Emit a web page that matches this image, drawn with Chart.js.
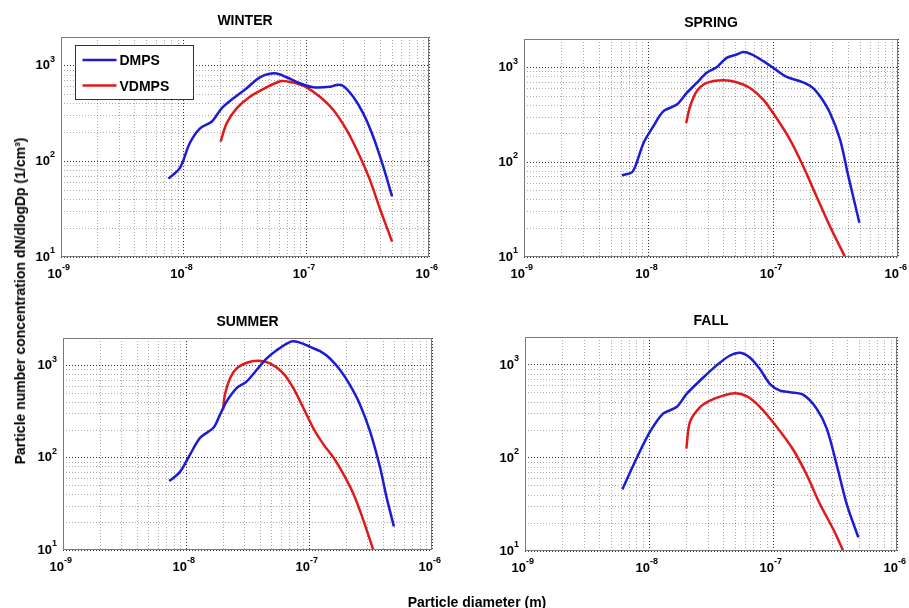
<!DOCTYPE html>
<html lang="en">
<head>
<meta charset="UTF-8">
<title>DMPS vs VDMPS - seasonal size distributions</title>
<script src="https://cdn.jsdelivr.net/npm/chart.js"></script>
<style>
  body { margin: 0; background: #fff; width: 909px; height: 608px; position: relative; overflow: hidden;
         font-family: "Liberation Sans", Arial, sans-serif; }
  canvas { position: absolute; }
  .axis-label { position: absolute; font-weight: bold; font-size: 14px; color: #000; white-space: nowrap; }
  #ylabel { left: 20px; top: 301px; transform: translate(-50%, -50%) rotate(-90deg); }
  #xlabel { left: 477px; top: 602px; transform: translate(-50%, -50%); }
</style>
</head>
<body>
<canvas id="winterChart" width="455" height="290" style="left:0;top:0"></canvas>
<canvas id="springChart" width="454" height="290" style="left:455px;top:0"></canvas>
<canvas id="summerChart" width="455" height="318" style="left:0;top:290px"></canvas>
<canvas id="fallChart" width="454" height="318" style="left:455px;top:290px"></canvas>
<div class="axis-label" id="ylabel">Particle number concentration dN/dlogDp (1/cm³)</div>
<div class="axis-label" id="xlabel">Particle diameter (m)</div>

<script>
// diameters in m, concentrations in 1/cm3
const winterDmpsD = [7.5e-9, 9.3e-9, 1.12e-8, 1.36e-8, 1.69e-8, 2.04e-8, 2.54e-8, 3.26e-8, 4.19e-8, 5.55e-8, 6.9e-8, 8.87e-8, 1.14e-7, 1.56e-7, 1.77e-7, 2.0e-7, 2.41e-7, 2.91e-7, 3.51e-7, 4.24e-7, 5.0e-7];
const winterDmpsN = [66, 85, 155, 222, 260, 359, 457, 582, 758, 833, 758, 656, 596, 603, 631, 616, 475, 318, 181, 88, 43];
const winterVdmpsD = [2.0e-8, 2.24e-8, 2.7e-8, 3.47e-8, 4.74e-8, 6.3e-8, 7.8e-8, 1.0e-7, 1.29e-7, 1.66e-7, 2.13e-7, 2.74e-7, 3.3e-7, 3.98e-7, 5.0e-7];
const winterVdmpsN = [161, 250, 359, 475, 596, 693, 666, 596, 475, 345, 213, 112, 64, 32, 14.5];

const springDmpsD = [6.1e-9, 7.3e-9, 7.8e-9, 9.1e-9, 1.09e-8, 1.31e-8, 1.68e-8, 2.02e-8, 2.43e-8, 2.92e-8, 3.51e-8, 4.22e-8, 5.08e-8, 5.75e-8, 6.7e-8, 8.3e-8, 1.0e-7, 1.28e-7, 1.64e-7, 2.03e-7, 2.37e-7, 2.85e-7, 3.43e-7, 4.0e-7, 4.9e-7];
const springDmpsN = [73, 78, 90, 160, 240, 345, 406, 539, 688, 879, 1007, 1264, 1373, 1454, 1373, 1167, 992, 796, 716, 624, 497, 331, 173, 71, 23];
const springVdmpsD = [2.0e-8, 2.15e-8, 2.43e-8, 2.92e-8, 3.97e-8, 5.08e-8, 6.5e-8, 8.3e-8, 1.06e-7, 1.36e-7, 1.74e-7, 2.23e-7, 2.85e-7, 3.76e-7];
const springVdmpsN = [260, 390, 562, 688, 734, 700, 609, 459, 293, 173, 90, 43, 21, 10];

const summerDmpsD = [7.3e-9, 8.9e-9, 1.08e-8, 1.3e-8, 1.67e-8, 1.89e-8, 2.14e-8, 2.58e-8, 3.11e-8, 3.75e-8, 4.53e-8, 5.46e-8, 7.2e-8, 8.45e-8, 1.02e-7, 1.23e-7, 1.48e-7, 1.79e-7, 2.15e-7, 2.6e-7, 3.13e-7, 3.78e-7, 4.28e-7, 4.9e-7];
const summerDmpsN = [56, 70, 109, 165, 212, 295, 410, 571, 673, 898, 1199, 1473, 1840, 1782, 1600, 1439, 1199, 898, 619, 378, 195, 79, 37, 18];
const summerVdmpsD = [2.0e-8, 2.07e-8, 2.28e-8, 2.58e-8, 3.11e-8, 3.87e-8, 4.82e-8, 6.18e-8, 7.46e-8, 9.0e-8, 1.08e-7, 1.31e-7, 1.58e-7, 1.9e-7, 2.29e-7, 2.77e-7, 3.33e-7];
const summerVdmpsN = [333, 484, 731, 936, 1077, 1132, 1060, 827, 571, 348, 212, 140, 101, 67, 41, 21, 10];

const fallDmpsD = [6.1e-9, 7.96e-9, 1.02e-8, 1.3e-8, 1.67e-8, 2.01e-8, 2.74e-8, 3.51e-8, 4.5e-8, 5.42e-8, 6.53e-8, 7.86e-8, 9.46e-8, 1.14e-7, 1.37e-7, 1.76e-7, 2.25e-7, 2.71e-7, 3.26e-7, 3.93e-7, 4.88e-7];
const fallDmpsN = [46, 100, 192, 300, 353, 489, 734, 991, 1265, 1352, 1196, 899, 624, 530, 509, 477, 339, 208, 85, 32, 14];
const fallVdmpsD = [2.0e-8, 2.14e-8, 2.58e-8, 3.1e-8, 3.97e-8, 4.94e-8, 6.13e-8, 7.86e-8, 1.07e-7, 1.46e-7, 1.87e-7, 2.39e-7, 3.07e-7, 3.69e-7];
const fallVdmpsN = [126, 245, 353, 415, 469, 497, 462, 353, 217, 122, 66, 32, 17, 10];

// axis limits and labelled decades
const xMin = 1e-9, xMax = 1e-6;
const yMin = 10, yMax = 2000;
const xTickExps = [-9, -8, -7, -6];
const yTickExps = [1, 2, 3];
const seriesNames = ['DMPS', 'VDMPS'];

const blue = '#1c1cd2';
const red = '#e01a1a';
const majorGrid = 'rgba(0,0,0,0.8)';
const minorGrid = 'rgba(0,0,0,0.32)';
const FONT = '"Liberation Sans", Arial, sans-serif';

function isDecade(v) {
  const l = Math.log10(v);
  return Math.abs(l - Math.round(l)) < 1e-9;
}

// 1..9 x 10^n grid like matlab's minor grid
function gridValues(min, max) {
  const out = [];
  for (let e = Math.floor(Math.log10(min)); e <= Math.ceil(Math.log10(max)); e++) {
    for (let m = 1; m <= 9; m++) {
      const v = m * Math.pow(10, e);
      if (v >= min * 0.999 && v <= max * 1.001) out.push(v);
    }
  }
  return out;
}

function logScale(min, max) {
  return {
    type: 'logarithmic',
    min: min,
    max: max,
    afterBuildTicks: s => { s.ticks = gridValues(min, max).map(v => ({ value: v, major: isDecade(v) })); },
    afterFit: s => { if (s.isHorizontal()) s.height = 0; else s.width = 0; },
    ticks: { display: false },
    grid: {
      drawTicks: false,
      lineWidth: 1,
      color: c => (c.tick && c.tick.major ? majorGrid : minorGrid)
    },
    border: { display: false, dash: [1, 2] }
  };
}

function drawPower(ctx, exp, xPos, yMid, mode) {
  const base = '10', sup = String(exp);
  ctx.font = 'bold 13px ' + FONT;
  const wBase = ctx.measureText(base).width;
  ctx.font = 'bold 9px ' + FONT;
  const wSup = ctx.measureText(sup).width;
  let xBase = mode === 'x' ? xPos - wBase : xPos - wSup - wBase;
  ctx.textAlign = 'left';
  ctx.textBaseline = 'alphabetic';
  ctx.font = 'bold 13px ' + FONT;
  ctx.fillText(base, xBase, yMid + 4.6);
  ctx.font = 'bold 9px ' + FONT;
  ctx.fillText(sup, xBase + wBase, yMid - 3);
}

const matlabAxes = {
  id: 'matlabAxes',
  afterDatasetsDraw(chart, args, opts) {
    const { ctx, chartArea: a } = chart;
    const x = chart.scales.x, y = chart.scales.y;
    ctx.save();
    ctx.strokeStyle = '#7a7a7a';
    ctx.lineWidth = 1;
    ctx.setLineDash([]);
    ctx.strokeRect(Math.round(a.left) + 0.5, Math.round(a.top) + 0.5,
                   Math.round(a.right - a.left) - 1, Math.round(a.bottom - a.top) - 1);

    ctx.fillStyle = '#000';
    xTickExps.forEach(e => drawPower(ctx, e, x.getPixelForValue(Math.pow(10, e)) + 1, a.bottom + 16, 'x'));
    yTickExps.forEach(e => drawPower(ctx, e, a.left - 6, y.getPixelForValue(Math.pow(10, e)) - 1, 'y'));

    // title
    ctx.font = 'bold 14px ' + FONT;
    ctx.textAlign = 'center';
    ctx.textBaseline = 'alphabetic';
    ctx.fillText(opts.title, (a.left + a.right) / 2, a.top - 12);

    if (opts.legend) {
      const bx = a.left + 14.5, by = a.top + 8.5, bw = 118, bh = 54;
      ctx.fillStyle = '#fff';
      ctx.fillRect(bx, by, bw, bh);
      ctx.strokeStyle = '#333';
      ctx.strokeRect(bx, by, bw, bh);
      chart.data.datasets.forEach((ds, i) => {
        const ly = by + 14.5 + i * 25.5;
        ctx.strokeStyle = ds.borderColor;
        ctx.lineWidth = 2.5;
        ctx.beginPath();
        ctx.moveTo(bx + 7, ly);
        ctx.lineTo(bx + 41, ly);
        ctx.stroke();
        ctx.fillStyle = '#000';
        ctx.font = 'bold 14px ' + FONT;
        ctx.textAlign = 'left';
        ctx.fillText(ds.label, bx + 44, ly + 5);
      });
    }
    ctx.restore();
  }
};

function toPoints(d, n) {
  return d.map((v, i) => ({ x: v, y: n[i] }));
}

function makeChart(id, title, dmpsD, dmpsN, vdmpsD, vdmpsN, padding, legend) {
  return new Chart(document.getElementById(id), {
    type: 'scatter',
    data: {
      datasets: [
        { label: seriesNames[0], data: toPoints(dmpsD, dmpsN), borderColor: blue },
        { label: seriesNames[1], data: toPoints(vdmpsD, vdmpsN), borderColor: red }
      ].map(ds => Object.assign(ds, { showLine: true, pointRadius: 0, borderWidth: 2.5, tension: 0.3, fill: false }))
    },
    options: {
      responsive: false,
      animation: false,
      events: [],
      layout: { padding: padding },
      scales: { x: logScale(xMin, xMax), y: logScale(yMin, yMax) },
      plugins: {
        legend: { display: false },
        tooltip: { enabled: false },
        matlabAxes: { title: title, legend: legend }
      }
    },
    plugins: [matlabAxes]
  });
}

makeChart('winterChart', 'WINTER', winterDmpsD, winterDmpsN, winterVdmpsD, winterVdmpsN,
  { left: 61, top: 37, right: 26, bottom: 33 }, true);
makeChart('springChart', 'SPRING', springDmpsD, springDmpsN, springVdmpsD, springVdmpsN,
  { left: 69, top: 39, right: 11, bottom: 33 }, false);
makeChart('summerChart', 'SUMMER', summerDmpsD, summerDmpsN, summerVdmpsD, summerVdmpsN,
  { left: 63, top: 48, right: 23, bottom: 58 }, false);
makeChart('fallChart', 'FALL', fallDmpsD, fallDmpsN, fallVdmpsD, fallVdmpsN,
  { left: 70, top: 47, right: 12, bottom: 57 }, false);
</script>
</body>
</html>
